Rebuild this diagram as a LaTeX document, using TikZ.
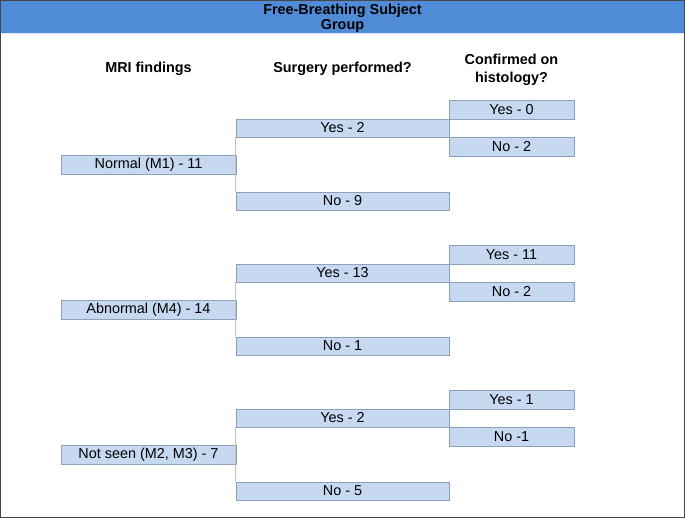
\documentclass[tikz,border=0pt]{standalone}
\usepackage{fontspec}
\setmainfont{Liberation Sans}
\usepackage{tikz}
\usetikzlibrary{
	arrows.meta,
	positioning,
	calc
}
\definecolor{bandblue}{RGB}{79,139,214}
\definecolor{boxfill}{RGB}{198,217,241}
\definecolor{boxline}{RGB}{140,160,188}
\definecolor{frameline}{RGB}{70,70,70}

\begin{document}
\begin{tikzpicture}[
			x=1pt, y=-1pt,
			font=\fontsize{14.4}{16}\selectfont,
			achado/.style={
					draw=boxline,
					line width=0.7pt,
					fill=boxfill,
					inner sep=0pt,
					minimum width=175pt,
					minimum height=19pt
				},
			cirurgia/.style={achado, minimum width=213pt, minimum height=18pt},
			histo/.style={achado, minimum width=125pt},
			titulo/.style={font=\fontsize{14.4}{17.5}\selectfont\bfseries, align=center},
			ligacao/.style={draw=black!25, line width=0.8pt}
		]
		\useasboundingbox (0,0) rectangle (685,518);
		\fill[bandblue] (0,0) rectangle (685,33);
		\draw[white!80!bandblue, line width=0.6pt] (0,33) -- (685,33);
		\draw[frameline, line width=1.4pt] (0.7,0.7) rectangle (684.3,517.3);

		\node[titulo, font=\fontsize{14.4}{15.5}\selectfont\bfseries] (grupo) at (342.5,18.5) {Free-Breathing Subject\\ Group};
		\node[titulo] (h1) at (148.5,69) {MRI findings};
		\node[titulo] (h2) at (342.5,69) {Surgery performed?};
		\node[titulo] (h3) at (511.5,70) {Confirmed on\\ histology?};

		% normal
		\node[achado] (m1) at (148.5,164.5) {Normal (M1) - 11};
		\node[cirurgia] (m1s) at (342.5,128) {Yes - 2};
		\node[cirurgia] (m1n) at (342.5,201) {No - 9};
		\node[histo] (m1sy) at (511.5,109.5) {Yes - 0};
		\node[histo] (m1sn) at (511.5,146.5) {No - 2};
		\draw[ligacao] (m1s.south west) -- (m1n.north west);

		% abnormal
		\node[achado] (m4) at (148.5,309.5) {Abnormal (M4) - 14};
		\node[cirurgia] (m4s) at (342.5,273) {Yes - 13};
		\node[cirurgia] (m4n) at (342.5,346) {No - 1};
		\node[histo] (m4sy) at (511.5,254.5) {Yes - 11};
		\node[histo] (m4sn) at (511.5,291.5) {No - 2};
		\draw[ligacao] (m4s.south west) -- (m4n.north west);

		% not seen
		\node[achado] (m23) at (148.5,454.5) {Not seen (M2, M3) - 7};
		\node[cirurgia] (m23s) at (342.5,418) {Yes - 2};
		\node[cirurgia] (m23n) at (342.5,491) {No - 5};
		\node[histo] (m23sy) at (511.5,399.5) {Yes - 1};
		\node[histo] (m23sn) at (511.5,436.5) {No -1};
		\draw[ligacao] (m23s.south west) -- (m23n.north west);
	\end{tikzpicture}
\end{document}
